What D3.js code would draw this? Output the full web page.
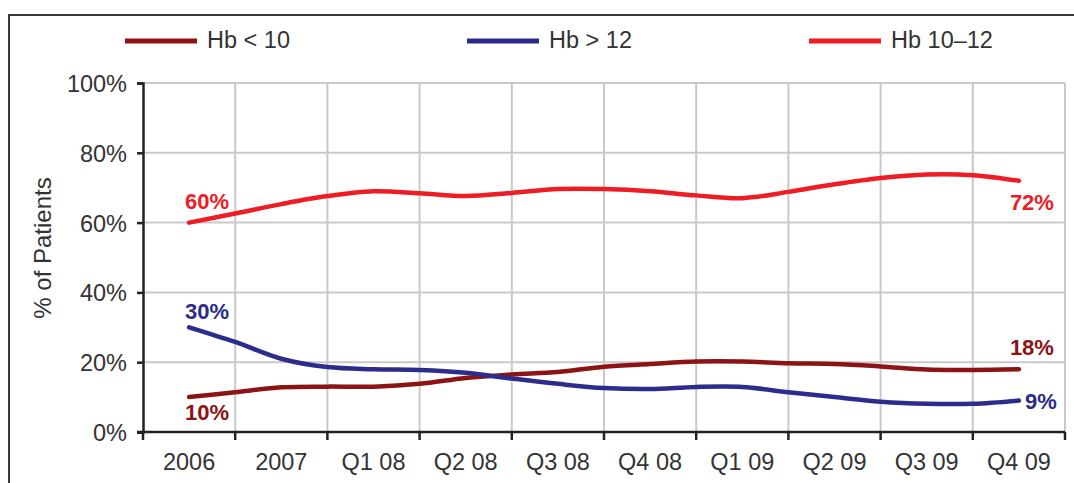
<!DOCTYPE html>
<html>
<head>
<meta charset="utf-8">
<script src="https://cdn.jsdelivr.net/npm/d3@7/dist/d3.min.js"></script>
<style>
  html, body { margin: 0; padding: 0; background: #fff; }
  svg { display: block; font-family: "Liberation Sans", Arial, sans-serif; }
</style>
</head>
<body>
<svg id="chart" width="1074" height="483"></svg>
<script>
// Period labels along the x axis
const categories = ["2006", "2007", "Q1 08", "Q2 08", "Q3 08", "Q4 08", "Q1 09", "Q2 09", "Q3 09", "Q4 09"];

// Readings sampled at every half period (19 samples, 2006 .. Q4 09), % of patients
const hbBelow10 = [10, 11.4, 12.8, 13.0, 13.0, 13.8, 15.5, 16.5, 17.2, 18.7, 19.5, 20.2, 20.2, 19.7, 19.5, 18.8, 17.9, 17.8, 18];
const hbAbove12 = [30, 25.8, 21.0, 18.6, 18.0, 17.8, 17.0, 15.3, 13.8, 12.6, 12.3, 12.9, 12.9, 11.4, 10.0, 8.7, 8.1, 8.1, 9];
const hb10to12  = [60, 62.6, 65.3, 67.6, 69.0, 68.4, 67.6, 68.5, 69.6, 69.6, 69.0, 67.8, 67.0, 68.8, 71.0, 72.8, 73.8, 73.6, 72];

const yTicks = [0, 20, 40, 60, 80, 100];

const series = [
  { name: "Hb < 10",  values: hbBelow10, color: "#8c1414", legendX: 125, labelStart: "below", labelEnd: "above" },
  { name: "Hb > 12",  values: hbAbove12, color: "#2b2c8c", legendX: 467, labelStart: "above", labelEnd: "right" },
  { name: "Hb 10–12", values: hb10to12,  color: "#ee1c25", legendX: 809, labelStart: "above", labelEnd: "below" }
];

const svg = d3.select("#chart");
const plot = { left: 143, right: 1065, top: 83, bottom: 432 };

// Outer frame (runs off the right and bottom edges)
svg.append("rect")
  .attr("x", 9).attr("y", 15)
  .attr("width", 1100).attr("height", 500)
  .attr("fill", "none").attr("stroke", "#3a3a3a").attr("stroke-width", 2);

const band = d3.scaleBand().domain(categories).range([plot.left, plot.right]).padding(0);
const x = d3.scaleLinear()
  .domain([0, categories.length - 1])
  .range([band(categories[0]) + band.bandwidth() / 2, band(categories[categories.length - 1]) + band.bandwidth() / 2]);
const y = d3.scaleLinear().domain([0, 100]).range([plot.bottom, plot.top]);

// Gridlines
const grid = svg.append("g").attr("stroke", "#c9c9c9").attr("stroke-width", 2);
yTicks.filter(t => t > 0).forEach(t => {
  grid.append("line").attr("x1", plot.left).attr("x2", plot.right).attr("y1", y(t)).attr("y2", y(t));
});
categories.forEach(c => {
  const bx = band(c) + band.bandwidth();
  grid.append("line").attr("x1", bx).attr("x2", bx).attr("y1", plot.top).attr("y2", plot.bottom);
});

// Y axis
const yAxis = d3.axisLeft(y).tickValues(yTicks).tickFormat(d => d + "%").tickSize(6).tickPadding(10);
const gy = svg.append("g").attr("transform", `translate(${plot.left},0)`).call(yAxis);
gy.select(".domain").attr("stroke", "#222").attr("stroke-width", 2.5);
gy.selectAll(".tick line").attr("stroke", "#222").attr("stroke-width", 2.5);
gy.selectAll(".tick text").attr("fill", "#333").attr("font-size", 23.5).attr("dy", "0.36em");

// X axis: ticks at band boundaries, labels centred in bands
const xAxisLine = svg.append("g");
xAxisLine.append("line").attr("x1", plot.left - 6).attr("x2", plot.right)
  .attr("y1", plot.bottom).attr("y2", plot.bottom).attr("stroke", "#222").attr("stroke-width", 2.5);
const bounds = [plot.left].concat(categories.map(c => band(c) + band.bandwidth()));
bounds.forEach(bx => {
  xAxisLine.append("line").attr("x1", bx).attr("x2", bx)
    .attr("y1", plot.bottom).attr("y2", plot.bottom + 8).attr("stroke", "#222").attr("stroke-width", 2.5);
});
svg.append("g").selectAll("text").data(categories).join("text")
  .attr("x", d => band(d) + band.bandwidth() / 2)
  .attr("y", 470)
  .attr("text-anchor", "middle")
  .attr("fill", "#333").attr("font-size", 23.5)
  .text(d => d);

// Y axis title
svg.append("text")
  .attr("transform", "translate(51,248) rotate(-90)")
  .attr("text-anchor", "middle")
  .attr("fill", "#333").attr("font-size", 24)
  .text("% of Patients");

// Lines
const line = d3.line()
  .x((d, i) => x(i / 2))
  .y(d => y(d))
  .curve(d3.curveCatmullRom.alpha(0.5));

series.forEach(s => {
  svg.append("path")
    .attr("d", line(s.values))
    .attr("fill", "none")
    .attr("stroke", s.color)
    .attr("stroke-width", 4.5)
    .attr("stroke-linejoin", "round")
    .attr("stroke-linecap", "round");
});

// End-point value labels
function valueLabel(s, idx, pos) {
  const v = s.values[idx];
  const px = x(idx / 2), py = y(v);
  let tx = px + 18, ty = py, anchor = "middle";
  if (pos === "above") ty = py - (idx === 0 && v < 50 ? 8 : 14);
  if (pos === "below") ty = py + (idx === 0 ? 23 : 29);
  if (pos === "right") { tx = px + 6; ty = py + 8; anchor = "start"; }
  if (idx > 0 && pos !== "right") tx = px + 13;
  svg.append("text")
    .attr("x", tx).attr("y", ty)
    .attr("text-anchor", anchor)
    .attr("fill", s.color).attr("font-size", 22).attr("font-weight", "bold")
    .text(v + "%");
}
series.forEach(s => {
  valueLabel(s, 0, s.labelStart);
  valueLabel(s, s.values.length - 1, s.labelEnd);
});

// Legend
series.forEach(s => {
  svg.append("line")
    .attr("x1", s.legendX).attr("x2", s.legendX + 72)
    .attr("y1", 41).attr("y2", 41)
    .attr("stroke", s.color).attr("stroke-width", 5);
  svg.append("text")
    .attr("x", s.legendX + 82).attr("y", 48)
    .attr("fill", "#333").attr("font-size", 23.5)
    .text(s.name);
});
</script>
</body>
</html>
